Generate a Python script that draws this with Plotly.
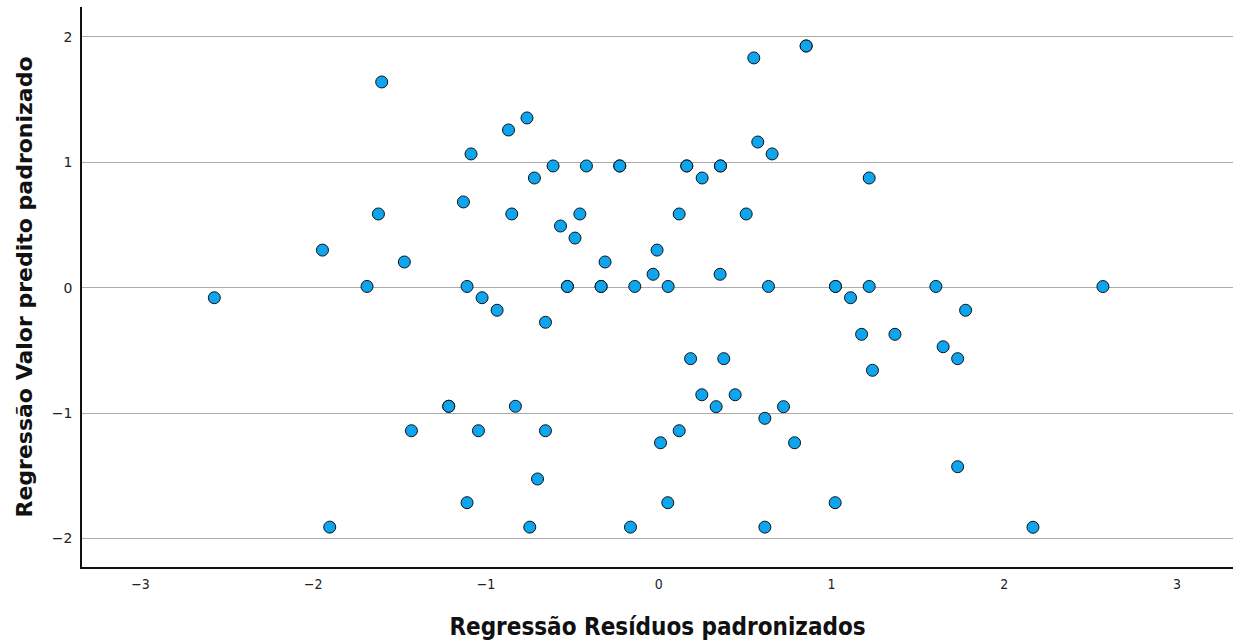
import plotly.graph_objects as go

# Standardized residuals (x) and standardized predicted values (y)
residuos = [
    -2.573, -1.947, -1.905, -1.689, -1.623, -1.604, -1.473, -1.432, -1.216, -1.216,
    -1.131, -1.110, -1.110, -1.087, -1.044, -1.023, -0.936, -0.870, -0.851, -0.830,
    -0.763, -0.747, -0.720, -0.702, -0.656, -0.656, -0.612, -0.569, -0.529, -0.529,
    -0.485, -0.457, -0.419, -0.334, -0.334, -0.311, -0.226, -0.226, -0.164, -0.139,
    -0.033, -0.010, 0.010, 0.054, 0.052, 0.118, 0.118, 0.162, 0.162, 0.184,
    0.251, 0.249, 0.332, 0.357, 0.357, 0.355, 0.376, 0.442, 0.506, 0.550,
    0.573, 0.614, 0.614, 0.635, 0.656, 0.853, 0.853, 0.722, 0.786, 1.023,
    1.023, 1.021, 1.110, 1.174, 1.218, 1.218, 1.237, 1.367, 1.604, 1.646,
    1.730, 1.730, 1.776, 2.166, 2.571,
]
preditos = [
    -0.080, 0.300, -1.910, 0.010, 0.588, 1.641, 0.205, -1.141, -0.946, -0.946,
    0.684, 0.010, -1.715, 1.067, -1.141, -0.080, -0.180, 1.258, 0.588, -0.946,
    1.354, -1.910, 0.875, -1.526, -0.276, -1.141, 0.971, 0.492, 0.010, 0.010,
    0.396, 0.588, 0.971, 0.010, 0.010, 0.205, 0.971, 0.971, -1.910, 0.010,
    0.107, 0.300, -1.237, 0.010, -1.715, 0.588, -1.141, 0.971, 0.971, -0.566,
    0.875, -0.854, -0.949, 0.971, 0.971, 0.107, -0.566, -0.854, 0.588, 1.833,
    1.162, -1.042, -1.910, 0.010, 1.067, 1.928, 1.928, -0.949, -1.237, 0.010,
    0.010, -1.715, -0.080, -0.372, 0.875, 0.010, -0.659, -0.372, 0.010, -0.471,
    -0.566, -1.428, -0.180, -1.911, 0.009,
]

x_ticks = [-3, -2, -1, 0, 1, 2, 3]
y_ticks = [-2, -1, 0, 1, 2]

fig = go.Figure()
fig.add_trace(go.Scatter(
    x=residuos, y=preditos, mode="markers",
    marker=dict(size=12, color="#0DA5F0", line=dict(color="#111111", width=1)),
    showlegend=False, hoverinfo="x+y",
))

fig.update_layout(
    width=1233, height=642,
    margin=dict(l=82, r=0, t=7, b=75),
    paper_bgcolor="white", plot_bgcolor="white",
    font=dict(family="DejaVu Sans", color="#222222"),
    xaxis=dict(
        range=[-3.339, 3.324], tickvals=x_ticks,
        ticktext=["\u22123", "\u22122", "\u22121", "0", "1", "2", "3"],
        showgrid=False, zeroline=False,
        showline=True, linecolor="#111111", linewidth=1.5,
        ticks="", ticklabelstandoff=3,
        tickfont=dict(family="DejaVu Sans Condensed", size=14, color="#222222"),
        title=dict(text="<b>Regressão Resíduos padronizados</b>",
                   font=dict(family="DejaVu Sans Condensed", size=24, color="#111111"),
                   standoff=28),
    ),
    yaxis=dict(
        range=[-2.228, 2.239], tickvals=y_ticks,
        ticktext=["\u22122", "\u22121", "0", "1", "2"],
        showgrid=True, gridcolor="#ABABAB", gridwidth=1,
        zeroline=False,
        showline=True, linecolor="#111111", linewidth=1.5,
        ticks="", ticklabelstandoff=5,
        tickfont=dict(family="DejaVu Sans", size=14, color="#222222"),
        title=dict(text="<b>Regressão Valor predito padronizado</b>",
                   font=dict(family="DejaVu Sans", size=22, color="#111111"),
                   standoff=13),
    ),
)

fig.write_html("out.html")
